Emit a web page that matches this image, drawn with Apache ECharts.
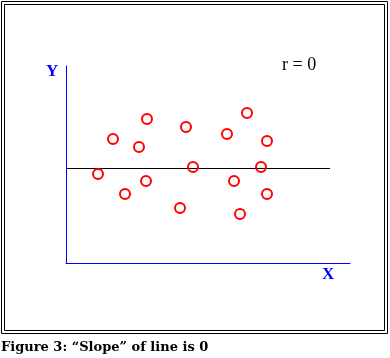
<!DOCTYPE html>
<html>
<head>
<meta charset="utf-8">
<script src="https://cdn.jsdelivr.net/npm/echarts@6/dist/echarts.min.js"></script>
<style>
html,body{margin:0;padding:0;background:#fff;}
#chart{width:390px;height:358px;}
</style>
</head>
<body>
<div id="chart"></div>
<script>
// Scatter points (x, y), in axis units
const pointsX = [32, 47, 59, 73, 80, 81, 114, 120, 127, 161, 168, 174, 181, 195, 201, 201];
const pointsY = [89, 124, 69, 116, 82, 144, 55, 136, 96, 129, 82, 49, 150, 96, 122, 69];
// Horizontal regression line (slope 0)
const lineX = [0, 264];
const lineY = [94.5, 94.5];
const axisMaxX = 284;
const axisMaxY = 197;
const labelX = 'X';
const labelY = 'Y';
const rText = 'r = 0';
const caption = 'Figure 3: \u201cSlope\u201d of line is 0';

const chart = echarts.init(document.getElementById('chart'), null, {renderer: 'canvas'});
const scatterData = pointsX.map((x, i) => [x, pointsY[i]]);
const lineData = lineX.map((x, i) => [x, lineY[i]]);

chart.setOption({
  animation: false,
  backgroundColor: '#ffffff',
  grid: {left: 66, right: 40, top: 66, bottom: 95, containLabel: false},
  xAxis: {
    type: 'value', min: 0, max: axisMaxX,
    axisLine: {show: true, onZero: false, lineStyle: {color: '#0000ff', width: 1}},
    axisTick: {show: false}, axisLabel: {show: false}, splitLine: {show: false}
  },
  yAxis: {
    type: 'value', min: 0, max: axisMaxY,
    axisLine: {show: true, onZero: false, lineStyle: {color: '#0000ff', width: 1}},
    axisTick: {show: false}, axisLabel: {show: false}, splitLine: {show: false}
  },
  series: [
    {
      type: 'line', data: lineData, symbol: 'none', silent: true,
      lineStyle: {color: '#000000', width: 1}, z: 1
    },
    {
      type: 'scatter', data: scatterData, symbol: 'circle', symbolSize: 10,
      itemStyle: {color: 'rgba(255,255,255,0)', borderColor: '#ff0000', borderWidth: 2, opacity: 1},
      z: 2
    }
  ],
  graphic: [
    {type: 'rect', shape: {x: 1.5, y: 1.5, width: 386, height: 332}, style: {fill: 'none', stroke: '#000', lineWidth: 1}},
    {type: 'rect', shape: {x: 4.5, y: 4.5, width: 380, height: 326}, style: {fill: 'none', stroke: '#000', lineWidth: 1}},
    {type: 'text', left: 46, top: 63, style: {text: labelY, font: 'bold 17px "Liberation Serif"', fill: '#0000ff'}},
    {type: 'text', left: 322, top: 266, style: {text: labelX, font: 'bold 17px "Liberation Serif"', fill: '#0000ff'}},
    {type: 'text', left: 282, top: 56, style: {text: rText, font: '18px "Liberation Serif"', fill: '#000'}},
    {type: 'text', left: 1, top: 341, style: {text: caption, font: 'bold 13px "DejaVu Serif"', fill: '#000'}}
  ]
});
</script>
</body>
</html>
